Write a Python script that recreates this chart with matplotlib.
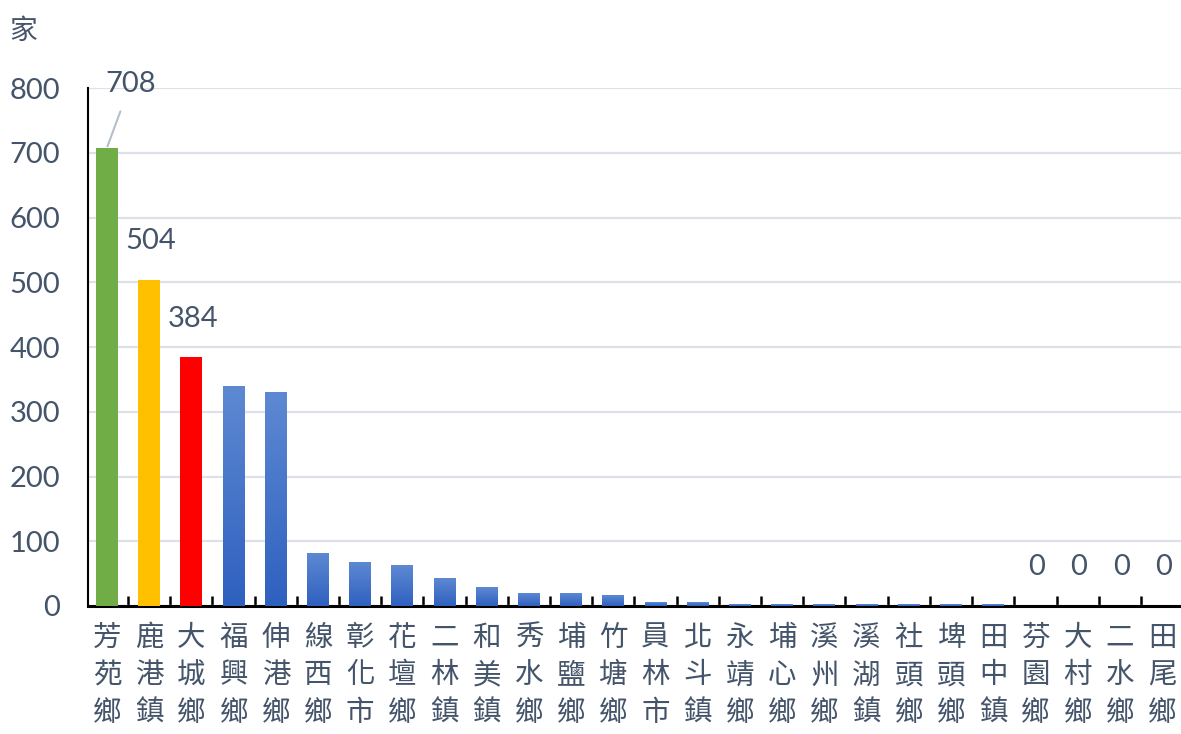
import matplotlib.pyplot as plt
import numpy as np
from matplotlib.colors import LinearSegmentedColormap

plt.rcParams["font.family"] = ["Lato", "Noto Sans CJK TC", "DejaVu Sans"]

TOWNS = [
    "芳苑鄉", "鹿港鎮", "大城鄉", "福興鄉", "伸港鄉", "線西鄉", "彰化市",
    "花壇鄉", "二林鎮", "和美鎮", "秀水鄉", "埔鹽鄉", "竹塘鄉", "員林市",
    "北斗鎮", "永靖鄉", "埔心鄉", "溪州鄉", "溪湖鎮", "社頭鄉", "埤頭鄉",
    "田中鎮", "芬園鄉", "大村鄉", "二水鄉", "田尾鄉",
]
COUNTS = [708, 504, 384, 339, 330, 81, 67, 62, 43, 29, 20, 20, 16, 6,
          6, 2, 2, 2, 2, 2, 2, 2, 0, 0, 0, 0]
HIGHLIGHT = {0: "#70AD47", 1: "#FFC000", 2: "#FF0000"}
LABELLED = [0, 1, 2, 22, 23, 24, 25]
Y_TICKS = [0, 100, 200, 300, 400, 500, 600, 700, 800]

TEXT_COLOR = "#44546A"
BAR_W = 0.52

fig = plt.figure(figsize=(11.81, 7.34), dpi=100)
ax = fig.add_axes([0.0745, 0.1744, 0.9255, 0.7056])

x = np.arange(len(COUNTS))
blue = LinearSegmentedColormap.from_list("blue", ["#2E60BF", "#5E89D2"])
grad = np.linspace(0, 1, 256).reshape(-1, 1)

for i, v in enumerate(COUNTS):
    if i in HIGHLIGHT:
        ax.bar(i, v, width=BAR_W, color=HIGHLIGHT[i], zorder=3)
    elif v > 0:
        ax.imshow(grad, extent=[i - BAR_W / 2, i + BAR_W / 2, 0, v],
                  origin="lower", cmap=blue, aspect="auto", zorder=3)

ax.set_xlim(-0.45, len(COUNTS) - 0.55)
ax.set_ylim(0, 800)
ax.set_yticks(Y_TICKS)
ax.grid(axis="y", color="#DCE1EA", linewidth=1.6, zorder=0)
ax.set_axisbelow(True)

for side in ["top", "right"]:
    ax.spines[side].set_visible(False)
ax.spines["left"].set_linewidth(1.5)
ax.spines["bottom"].set_linewidth(2.2)

ax.set_xticks(x)
ax.set_xticklabels(["\n".join(t) for t in TOWNS], linespacing=1.33,
                   fontsize=20.5, color=TEXT_COLOR,
                   family=["Noto Sans CJK TC", "DejaVu Sans"])
ax.set_xticks(np.arange(len(COUNTS) - 1) + 0.5, minor=True)
ax.tick_params(axis="x", which="major", length=0, pad=12)
ax.tick_params(axis="x", which="minor", direction="in", length=7, width=1.8)
ax.tick_params(axis="y", length=0, labelsize=21, labelcolor=TEXT_COLOR, pad=20)

# data labels
for i in LABELLED:
    v = COUNTS[i]
    if i == 0:
        ax.annotate(str(v), xy=(i, v), xytext=(17, 46), textcoords="offset points",
                    ha="center", va="center", fontsize=21, color=TEXT_COLOR,
                    arrowprops=dict(arrowstyle="-", color="#B4BFCC", lw=1.5,
                                    shrinkA=9, shrinkB=1))
    else:
        ax.annotate(str(v), xy=(i, v), xytext=(1, 28), textcoords="offset points",
                    ha="center", va="center", fontsize=21, color=TEXT_COLOR)

fig.text(0.008, 0.958, "家", fontsize=20, color=TEXT_COLOR, va="center",
         family=["Noto Sans CJK TC", "DejaVu Sans"])

fig.savefig("out.png", dpi=100)
